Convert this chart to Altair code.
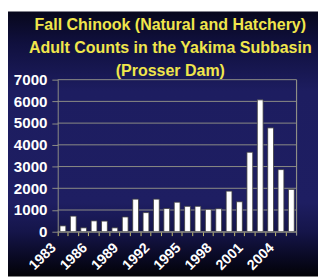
import altair as alt
import pandas as pd

# ---- data ----
years = ["1983", "1984", "1985", "1986", "1987", "1988", "1989", "1990",
         "1991", "1992", "1993", "1994", "1995", "1996", "1997", "1998",
         "1999", "2000", "2001", "2002", "2003", "2004", "2005"]
counts = [270, 720, 180, 500, 490, 180, 680, 1500,
          880, 1500, 1070, 1360, 1170, 1170, 1030, 1060,
          1870, 1380, 3660, 6070, 4780, 2860, 1950]
y_ticks = [0, 1000, 2000, 3000, 4000, 5000, 6000, 7000]
title_lines = ["Fall Chinook (Natural and Hatchery)",
               "Adult Counts in the Yakima Subbasin",
               "(Prosser Dam)"]

FONT = "Liberation Sans"
GRID = "#8e8e86"
W, H = 245, 156
PAD = {"left": 51, "top": 70, "right": 22, "bottom": 46}

df = pd.DataFrame({"year": years, "count": counts})
grid_df = pd.DataFrame({"count": y_ticks})

y_scale = alt.Scale(domain=[0, 7000], nice=False)
y_axis = alt.Axis(values=y_ticks, title=None, grid=False, format="d",
                  labelColor="white", labelFont=FONT, labelFontSize=15.5,
                  labelFontWeight="bold", labelPadding=5, tickColor=GRID,
                  tickSize=6, domainColor=GRID, zindex=1)

bg = alt.Chart(pd.DataFrame({"k": [0]})).mark_rect(
    clip=False,
    color=alt.Gradient(
        gradient="linear", x1=0, y1=0, x2=0, y2=1,
        stops=[
            alt.GradientStop(offset=0, color="#07071c"),
            alt.GradientStop(offset=0.12, color="#10103e"),
            alt.GradientStop(offset=0.3, color="#1d1d60"),
            alt.GradientStop(offset=0.72, color="#1e1e62"),
            alt.GradientStop(offset=0.83, color="#15154a"),
            alt.GradientStop(offset=0.92, color="#0a0a26"),
            alt.GradientStop(offset=1, color="#020206"),
        ],
    ),
).encode(
    x=alt.value(-PAD["left"]), x2=alt.value(W + PAD["right"]),
    y=alt.value(-PAD["top"]), y2=alt.value(H + PAD["bottom"]),
)

title = alt.Chart(pd.DataFrame({"k": [0]})).mark_text(
    clip=False, color="#f0e64b", font=FONT, fontSize=16.4, fontWeight="bold",
    lineHeight=23.5, align="center", baseline="alphabetic",
).encode(x=alt.value(W / 2 - 7), y=alt.value(-50.5), text=alt.value(title_lines))

grid = alt.Chart(grid_df).mark_rule(color=GRID, strokeWidth=1).encode(
    y=alt.Y("count:Q", scale=y_scale, axis=y_axis)
)

border = alt.Chart(pd.DataFrame({"k": [0]})).mark_rule(
    color=GRID, strokeWidth=1.2, clip=False
).encode(x=alt.value(W), y=alt.value(0), y2=alt.value(H + 4))

bars = alt.Chart(df).mark_bar(
    width={"band": 0.56}, color="white", stroke="#3c3c3c", strokeWidth=0.8
).encode(
    x=alt.X("year:N", sort=years,
            scale=alt.Scale(paddingInner=0, paddingOuter=0),
            axis=alt.Axis(title=None, labelAngle=-45, labelAlign="right",
                          labelBaseline="top", labelColor="white",
                          labelFont=FONT, labelFontSize=14.5,
                          labelFontWeight="bold", labelOverlap=False,
                          labelExpr="(toNumber(datum.value) - 1983) % 3 == 0 ? datum.label : ''",
                          bandPosition=0, tickColor="#c8c070", tickSize=4,
                          labelPadding=5, labelOffset=-14, domainColor=GRID,
                          zindex=1)),
    y=alt.Y("count:Q", scale=y_scale, axis=y_axis),
)

chart = alt.layer(bg, grid, bars, border, title).properties(
    width=W, height=H,
    autosize=alt.AutoSizeParams(type="none"),
    padding=PAD,
    background="#ffffff",
).configure_view(stroke=None)

chart.save("out.html", embed_options={"renderer": "svg", "actions": False})
